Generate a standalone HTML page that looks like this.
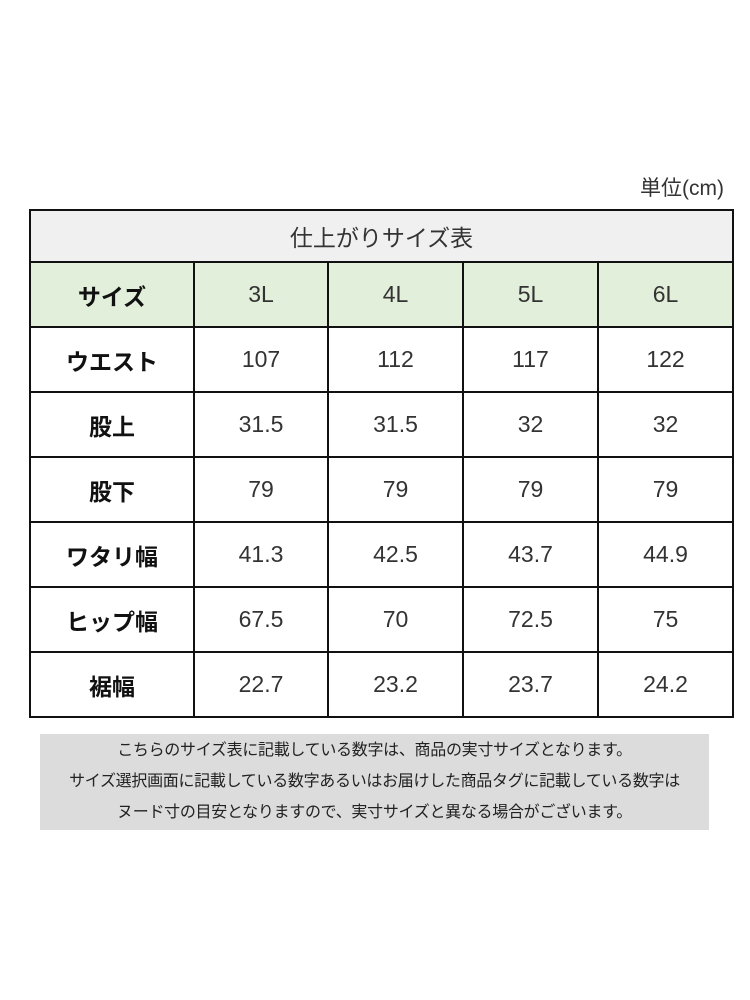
<!DOCTYPE html>
<html><head><meta charset="utf-8"><style>
body{margin:0;width:750px;height:1000px;background:#fff;font-family:"Liberation Sans","Noto Sans CJK JP",sans-serif;color:#222;position:relative;overflow:hidden}
.unit{position:absolute;right:26px;top:172px;font-size:21px;color:#333}
table{position:absolute;left:29px;top:209px;border-collapse:collapse;table-layout:fixed}
td{border:2px solid #111;text-align:center;font-size:23px;padding:0;height:63px;color:#333}
td.h{font-weight:bold;color:#111;font-size:23px}
tr.t td{height:50px;background:#f0f0f0;font-size:23px;border-bottom:2px solid #111}
tr.g td{background:#e2efda}
.note{position:absolute;left:40px;top:734px;width:669px;height:95px;background:#dcdcdc;font-size:16px;line-height:31px;text-align:center;color:#222;padding-top:1px;letter-spacing:-0.3px}
</style></head><body>
<div class="unit">単位(cm)</div>
<table>
<colgroup><col style="width:164px"><col style="width:134px"><col style="width:135px"><col style="width:135px"><col style="width:135px"></colgroup>
<tr class="t"><td colspan="5">仕上がりサイズ表</td></tr>
<tr class="g"><td class="h">サイズ</td><td>3L</td><td>4L</td><td>5L</td><td>6L</td></tr>
<tr><td class="h">ウエスト</td><td>107</td><td>112</td><td>117</td><td>122</td></tr>
<tr><td class="h">股上</td><td>31.5</td><td>31.5</td><td>32</td><td>32</td></tr>
<tr><td class="h">股下</td><td>79</td><td>79</td><td>79</td><td>79</td></tr>
<tr><td class="h">ワタリ幅</td><td>41.3</td><td>42.5</td><td>43.7</td><td>44.9</td></tr>
<tr><td class="h">ヒップ幅</td><td>67.5</td><td>70</td><td>72.5</td><td>75</td></tr>
<tr><td class="h">裾幅</td><td>22.7</td><td>23.2</td><td>23.7</td><td>24.2</td></tr>
</table>
<div class="note">こちらのサイズ表に記載している数字は、商品の実寸サイズとなります。<br>サイズ選択画面に記載している数字あるいはお届けした商品タグに記載している数字は<br>ヌード寸の目安となりますので、実寸サイズと異なる場合がございます。</div>
</body></html>
